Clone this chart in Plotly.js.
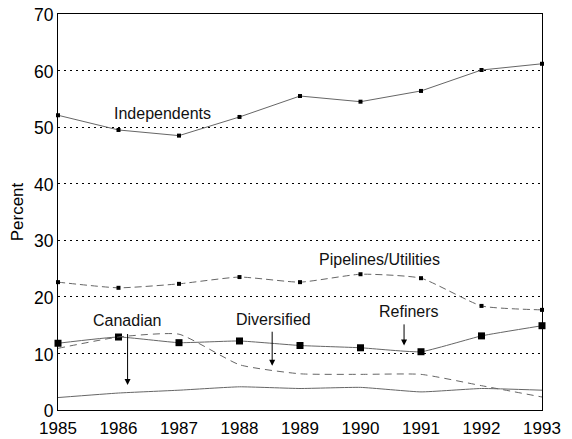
<!DOCTYPE html>
<html><head><meta charset="utf-8">
<script src="https://cdn.plot.ly/plotly-3.0.1.min.js"></script>
<style>html,body{margin:0;padding:0;background:#fff}#chart{width:572px;height:439px}</style>
</head><body><div id="chart"></div>
<script>
const years = [1985,1986,1987,1988,1989,1990,1991,1992,1993];
const independents = [52.1,49.5,48.5,51.8,55.5,54.5,56.4,60.1,61.2];
const pipelines = [22.6,21.6,22.3,23.5,22.6,24.0,23.3,18.4,17.7];
const refiners = [11.8,12.9,11.9,12.2,11.4,11.0,10.3,13.1,14.9];
const diversified = [10.9,12.9,13.4,8.0,6.4,6.3,6.3,4.3,2.3];
const canadian = [2.2,3.0,3.5,4.1,3.8,4.0,3.2,3.8,3.5];
const yTicks = [0,10,20,30,40,50,60,70];

const labels = [
  {text:'Independents', x:1986.73, y:52.4},
  {text:'Pipelines/Utilities', x:1990.32, y:26.6},
  {text:'Refiners', x:1990.80, y:17.5},
  {text:'Canadian', x:1986.15, y:15.9},
  {text:'Diversified', x:1988.57, y:16.0}
];
const arrows = [
  {x:1990.72, y0:15.4, y1:11.4},
  {x:1986.15, y0:13.7, y1:4.4},
  {x:1988.54, y0:14.1, y1:7.8}
];

const lineColor = '#666';
const traces = [
  {x:years, y:independents, mode:'lines+markers', cliponaxis:false, line:{color:lineColor,width:1}, marker:{symbol:'square',size:4,color:'#000'}},
  {x:years, y:pipelines, mode:'lines+markers', cliponaxis:false, line:{color:lineColor,width:1,dash:'7px,4px',shape:'spline',smoothing:0.5}, marker:{symbol:'square',size:4,color:'#000'}},
  {x:years, y:refiners, mode:'lines+markers', cliponaxis:false, line:{color:lineColor,width:1,shape:'spline',smoothing:0.4}, marker:{symbol:'square',size:7,color:'#000'}},
  {x:years, y:diversified, mode:'lines', line:{color:lineColor,width:1,dash:'7px,5px',shape:'spline',smoothing:0.5}},
  {x:years, y:canadian, mode:'lines', line:{color:lineColor,width:1,shape:'spline',smoothing:0.4}}
];

const annotations = labels.map(l => ({x:l.x, y:l.y, xref:'x', yref:'y', text:l.text, showarrow:false,
  font:{family:'Liberation Sans, Arial, sans-serif', size:16, color:'#111'}}));
arrows.forEach(a => annotations.push({x:a.x, y:a.y1, ax:a.x, ay:a.y0, xref:'x', yref:'y', axref:'x', ayref:'y',
  text:'', showarrow:true, arrowhead:2, arrowsize:1.2, arrowwidth:1, arrowcolor:'#000'}));

const layout = {
  width:572, height:439,
  margin:{l:58, r:30, t:14, b:29},
  paper_bgcolor:'#fff', plot_bgcolor:'#fff',
  showlegend:false,
  font:{family:'Liberation Sans, Arial, sans-serif', size:17, color:'#000'},
  xaxis:{range:[1985,1993], tickvals:years, ticktext:years.map(String), showgrid:false, zeroline:false,
    showline:true, linecolor:'#000', linewidth:1, mirror:true, ticks:'', tickfont:{size:17}, ticklabelstandoff:3},
  yaxis:{range:[0,70], tickvals:yTicks, showgrid:true, gridcolor:'#000', griddash:'2px,4px', gridwidth:1, zeroline:false,
    showline:true, linecolor:'#000', linewidth:1, mirror:true, ticks:'', tickfont:{size:17.5}, ticklabelshift:1,
    title:{text:'Percent', font:{size:17}, standoff:6}},
  annotations:annotations
};
Plotly.newPlot('chart', traces, layout, {displayModeBar:false, staticPlot:true});
</script></body></html>
